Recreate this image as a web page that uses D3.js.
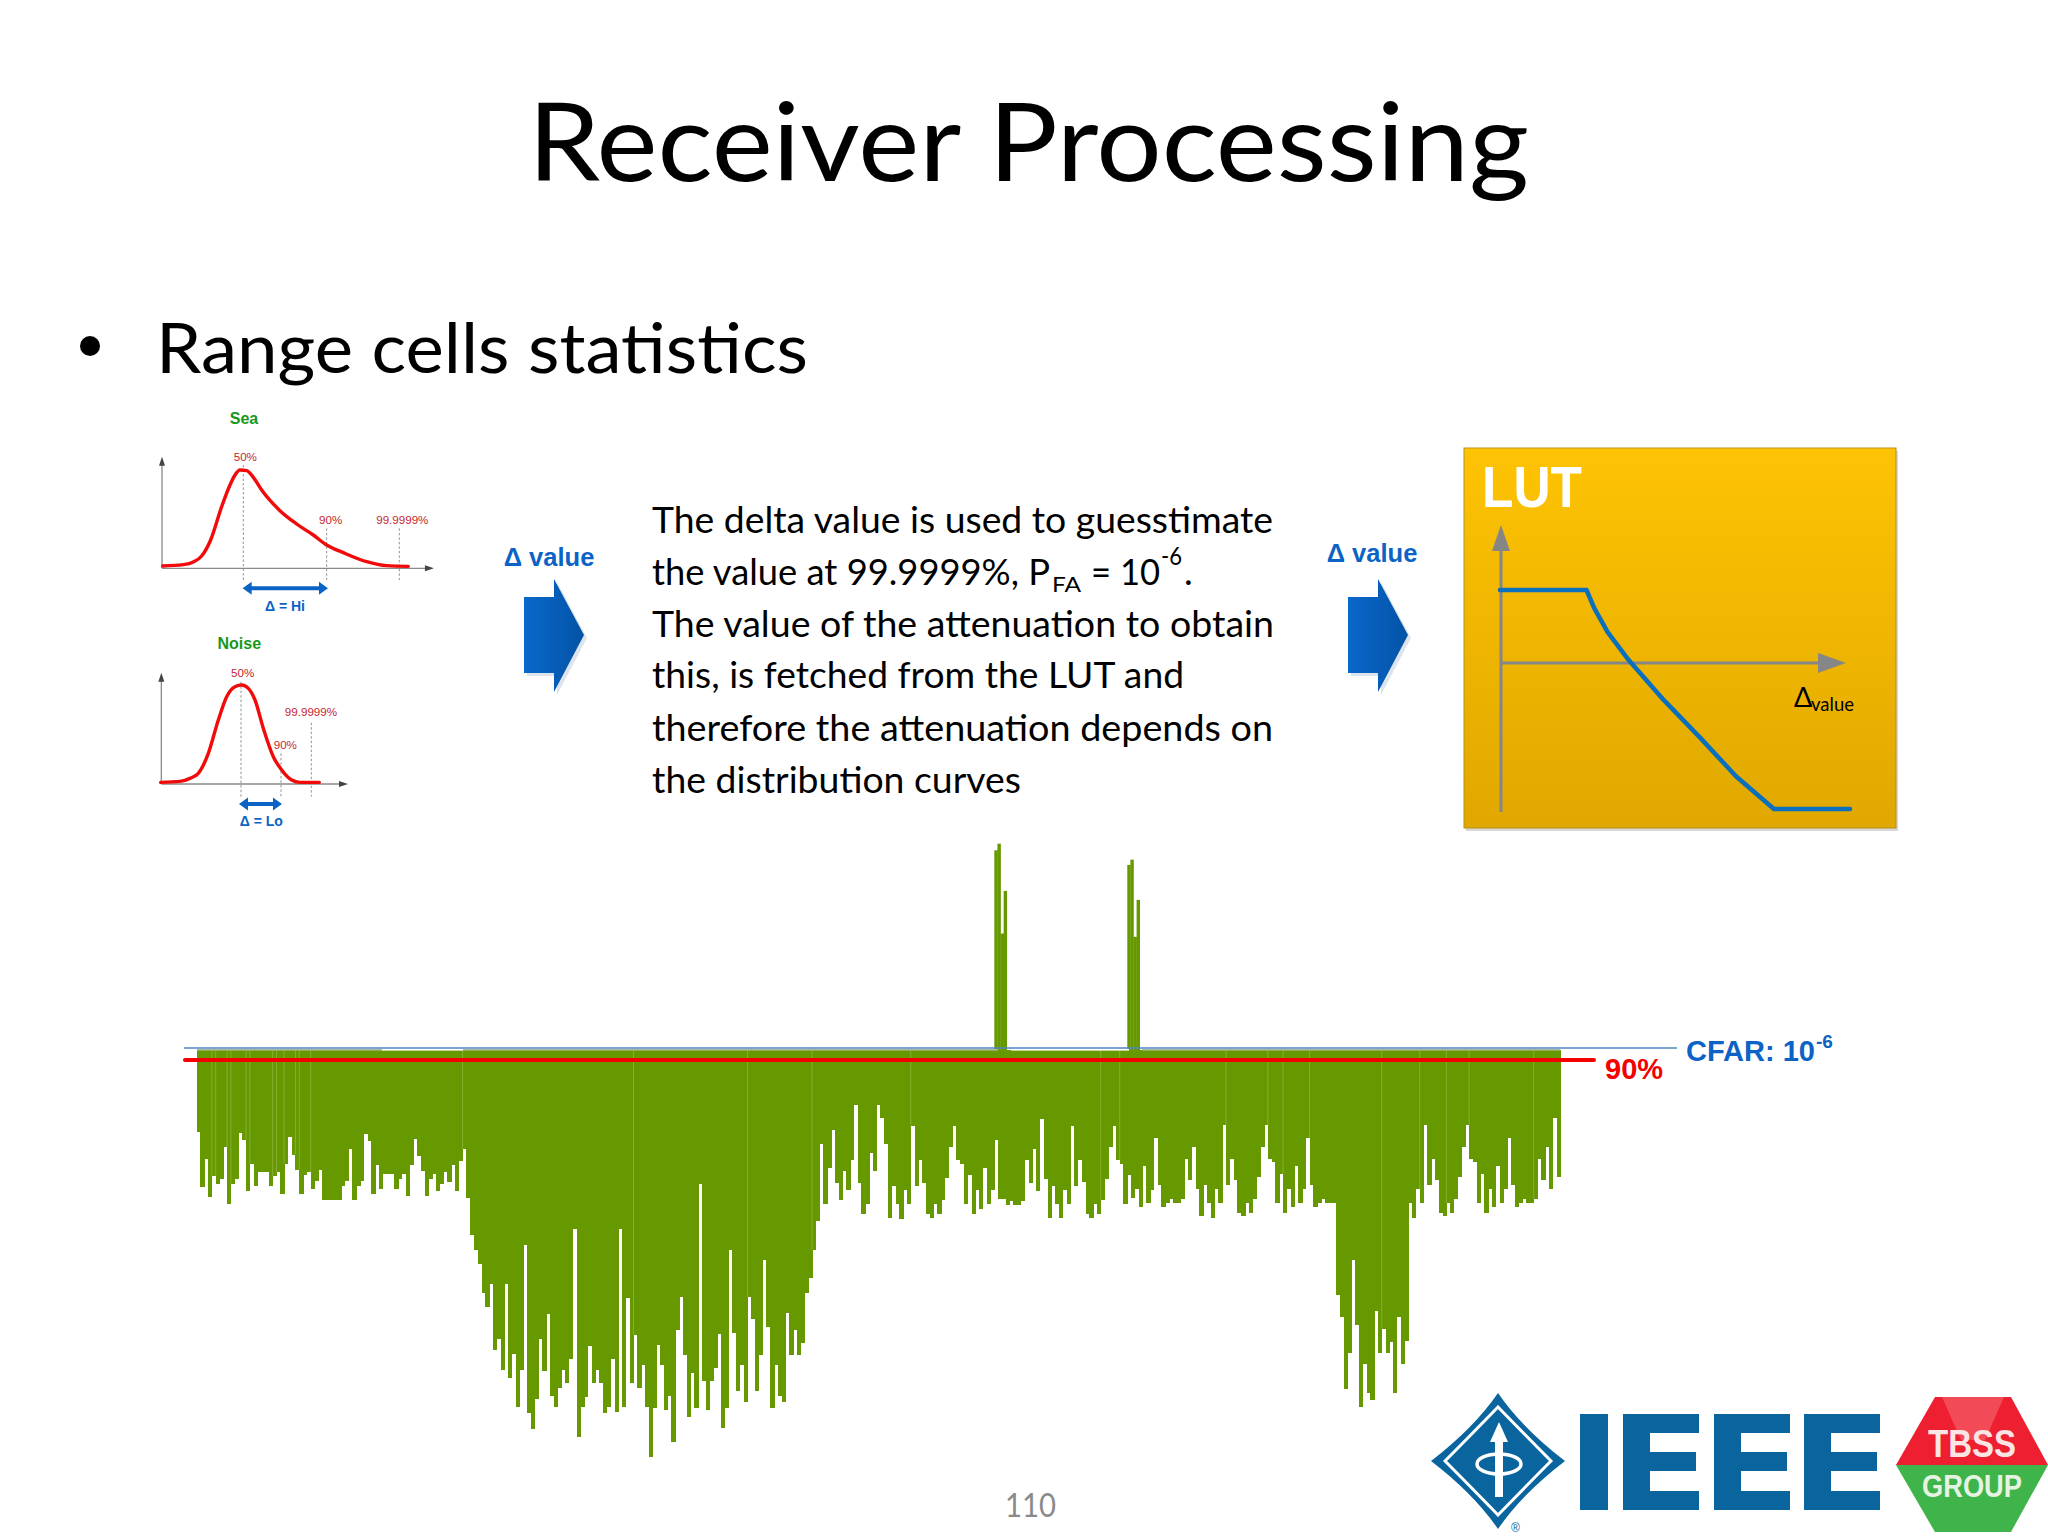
<!DOCTYPE html>
<html><head><meta charset="utf-8">
<script src="https://cdn.jsdelivr.net/npm/d3@7"></script>
<style>html,body{margin:0;background:#fff}svg{display:block}</style></head>
<body><svg id="c" width="2048" height="1536"></svg>
<script>
// ---- data ----
const rangeCellLevels = [
305,470,385,500,437,461,447,350,522,462,447,307,327,483,400,467,425,425,425,467,
437,425,490,400,320,372,418,490,435,425,475,453,418,510,510,510,510,510,467,453,
355,508,467,453,310,330,490,405,475,432,432,432,477,445,432,497,405,325,377,423,
497,445,432,483,460,425,455,405,483,393,355,502,615,658,702,787,830,762,958,925,
1020,762,1045,972,1132,1020,643,1150,1198,1107,925,1023,850,1098,1132,1075,1020,1058,987,595,
1220,1132,1100,948,1058,1020,1058,1150,1132,987,1145,595,1132,802,1058,913,1075,1003,1132,1280,
1135,945,1005,
1140,1097,1235,900,800,975,1162,1030,1133,460,1052,1140,1052,1013,910,1195,1135,658,908,1082,1005,1115,800,865,1082,975,690,890,1135,1005,1097,1115,847,975,900,975,938,787,743,658,572,
340,522,412,298,457,510,423,480,388,222,457,550,522,367,423,222,262,340,563,468,522,566,480,522,285,468,388,457,550,563,522,550,510,443,350,285,388,400,522,435,550,480,535,412,522,480,328,507,507,523,513,525,525,513,390,457,355,482,265,447,562,468,522,563,480,520,287,467,388,455,550,562,522,550,510,445,350,287,388,400,520,433,503,476,530,
408,518,478,322,465,530,518,507,518,518,505,385,450,348,476,558,465,518,562,477,518,283,465,385,450,548,558,518,548,505,440,348,283,385,396,518,430,548,476,530,408,518,476,322,465,530,518,507,518,518,518,
795,860,1078,968,688,885,1130,1000,1090,1110,842,968,895,968,935,1090,860,1000,933,
518,562,477,518,283,465,385,450,548,558,518,548,505,440,348,283,385,396,518,430,548,476,530,408,518,476,322,465,530,518,507,518,518,505,385,450,348,476,262,440];
const cfarLevel = 58;
const spikeA = [-542,-562,-292,-420];
const spikeB = [-498,-514,-282,-393];
const spikeStartCells = [210,245];
const seamCells = [4,5,8,9,13,14,20,21,23,26,27,30,70,115,145,162,188,238,243,271,282,286,293,312,322,329,335,352];

const seaCurveX = [68,130,160,185,212,245,270,285,300,320,340,365,420,470,520,560,610,680,740,805];
const seaCurveY = [498,494,486,468,420,320,255,225,210,212,232,270,332,372,405,435,458,485,497,499];
const noiseCurveX = [62,120,150,175,205,235,260,285,305,325,345,370,400,425,455,480,538];
const noiseCurveY = [1147,1144,1135,1120,1060,960,890,860,855,865,900,985,1070,1110,1140,1147,1147];
const lutX = [0,66,72,82,97,125,153,180,209,267];
const lutY = [0,0,14,32,52,84,113,142,167,167];
const paragraph = [
 ["The delta value is used to guesstimate",621],
 ["The value of the attenuation to obtain",622],
 ["this, is fetched from the LUT and",532],
 ["therefore the attenuation depends on",621],
 ["the distribution curves",369]];

// ---- setup ----
const svg = d3.select("#c");
const defs = svg.append("defs");
const lg = (id,a,b,x2,y2)=>{const g=defs.append("linearGradient").attr("id",id).attr("x1",0).attr("y1",0).attr("x2",x2).attr("y2",y2);
 g.append("stop").attr("offset",0).attr("stop-color",a);g.append("stop").attr("offset",1).attr("stop-color",b);};
lg("lutG","#fec303","#e0a800",0,1); lg("arrG","#0a68cc","#0353a6",1,0);
const LATO="Lato, 'Open Sans', sans-serif", ARIAL="'Liberation Sans', Arial, sans-serif";
const txt=(s,x,y,size,fill,o={})=>{const t=svg.append("text").attr("x",x).attr("y",y).attr("font-size",size).attr("fill",fill)
 .attr("font-family",o.f||ARIAL).attr("font-weight",o.w||400).attr("text-anchor",o.a||"start").text(s);
 if(o.len)t.attr("textLength",o.len).attr("lengthAdjust","spacingAndGlyphs");return t;};

// ---- headings ----
txt("Receiver Processing",528,181,108,"#000",{f:LATO,len:1001});
svg.append("circle").attr("cx",90).attr("cy",346).attr("r",10).attr("fill","#000");
txt("Range cells statistics",156,373,69,"#000",{f:LATO,len:652});

// ---- small distribution plots (reading units of the inset) ----
const sx=d3.scaleLinear().domain([0,880]).range([140,433.3]);
const sy=d3.scaleLinear().domain([0,1380]).range([400,860]);
const line=d3.line().x(d=>sx(d[0])).y(d=>sy(d[1])).curve(d3.curveMonotoneX);
const axisCol="#8a8a8a";
function inset(cx,cy,ax0,axEnd,ay0,ayEnd,dash,labels,arrow){
 svg.append("line").attr("x1",sx(ax0)).attr("x2",sx(axEnd-24)).attr("y1",sy(ay0)).attr("y2",sy(ay0)).attr("stroke",axisCol).attr("stroke-width",1.3);
 svg.append("line").attr("x1",sx(ax0)).attr("x2",sx(ax0)).attr("y1",sy(ay0)).attr("y2",sy(ayEnd+24)).attr("stroke",axisCol).attr("stroke-width",1.3);
 svg.append("path").attr("d",`M${sx(axEnd)},${sy(ay0)}L${sx(axEnd-27)},${sy(ay0-9)}L${sx(axEnd-27)},${sy(ay0+9)}Z`).attr("fill","#444");
 svg.append("path").attr("d",`M${sx(ax0)},${sy(ayEnd)}L${sx(ax0-9)},${sy(ayEnd+27)}L${sx(ax0+9)},${sy(ayEnd+27)}Z`).attr("fill","#444");
 dash.forEach(d=>svg.append("line").attr("x1",sx(d[0])).attr("x2",sx(d[0])).attr("y1",sy(d[1])).attr("y2",sy(d[2])).attr("stroke","#888").attr("stroke-width",.9).attr("stroke-dasharray","2.5 2"));
 svg.append("path").attr("d",line(d3.zip(cx,cy))).attr("fill","none").attr("stroke","#f20a0a").attr("stroke-width",3.4).attr("stroke-linecap","round");
 labels.forEach(l=>txt(l[0],sx(l[1]),sy(l[2]),11.6,"#c4262e",{a:"middle"}));
 const [a,b,y]=arrow, h=6.5, w=9;
 svg.append("path").attr("d",`M${sx(a)},${sy(y)}L${sx(a)+w},${sy(y)-h}L${sx(a)+w},${sy(y)-2}L${sx(b)-w},${sy(y)-2}L${sx(b)-w},${sy(y)-h}L${sx(b)},${sy(y)}L${sx(b)-w},${sy(y)+h}L${sx(b)-w},${sy(y)+2}L${sx(a)+w},${sy(y)+2}L${sx(a)+w},${sy(y)+h}Z`).attr("fill","#0b63c5");
}
inset(seaCurveX,seaCurveY,66,882,505,170,[[310,195,540],[560,385,540],[778,385,540]],[["50%",316,182],["90%",572,371],["99.9999%",787,371]],[308,564,565]);
inset(noiseCurveX,noiseCurveY,64,624,1152,818,[[303,845,1190],[423,1060,1195],[514,968,1190]],[["50%",308,832],["90%",436,1046],["99.9999%",513,947]],[297,426,1212]);
txt("Sea",sx(312),sy(73),16,"#16981a",{a:"middle",w:700});
txt("Noise",sx(298),sy(747),16,"#16981a",{a:"middle",w:700});
txt("Δ = Hi",sx(435),sy(634),14,"#0b63c5",{a:"middle",w:700});
txt("Δ = Lo",sx(364),sy(1279),14,"#0b63c5",{a:"middle",w:700});

// ---- block arrows ----
function blockArrow(x0){
 const bx=x0+30, tip=x0+60;
 svg.append("path").attr("d",`M${x0},597L${bx},597L${bx},579L${tip},635L${bx},692L${bx},673L${x0},673Z`).attr("transform","translate(3,3)").attr("fill","#cfd8e4").attr("opacity",.7);
 svg.append("path").attr("d",`M${x0},597L${bx},597L${bx},579L${tip},635L${bx},692L${bx},673L${x0},673Z`).attr("fill","url(#arrG)");
}
blockArrow(524); blockArrow(1348);
txt("Δ value",549,566,25.5,"#0b63c5",{a:"middle",w:700});
txt("Δ value",1372,562,25.5,"#0b63c5",{a:"middle",w:700});

// ---- paragraph ----
const paraY=[533,637,688,741,793];
paragraph.forEach((p,i)=>txt(p[0],652,paraY[i],37,"#000",{f:LATO,len:p[1]}));
txt("the value at 99.9999%, P",652,585,37,"#000",{f:LATO,len:398});
txt("FA",1052,592,22,"#000",{f:LATO,len:29});
txt("= 10",1091,585,37,"#000",{f:LATO,len:69});
txt("-6",1161,565,25,"#000",{f:LATO,len:21});
txt(".",1184,585,37,"#000",{f:LATO});

// ---- LUT panel ----
svg.append("rect").attr("x",1466).attr("y",451).attr("width",432).attr("height",380).attr("fill","#d8d8d8");
svg.append("rect").attr("x",1464).attr("y",448).attr("width",432).attr("height",380).attr("fill","url(#lutG)").attr("stroke","#b98f1a").attr("stroke-width",1);
txt("LUT",1482,507,58,"#fff",{w:700,len:100});
const lx=d3.scaleLinear().domain([0,267]).range([1500,1850]);
const ly=d3.scaleLinear().domain([0,167]).range([590,809]);
svg.append("line").attr("x1",1501).attr("x2",1501).attr("y1",548).attr("y2",812).attr("stroke","#868686").attr("stroke-width",3);
svg.append("line").attr("x1",1501).attr("x2",1820).attr("y1",663).attr("y2",663).attr("stroke","#868686").attr("stroke-width",3);
svg.append("path").attr("d","M1501,525L1492,551L1510,551Z").attr("fill","#868686");
svg.append("path").attr("d","M1846,663L1818,653L1818,673Z").attr("fill","#868686");
svg.append("path").attr("d",d3.line().x(d=>lx(d[0])).y(d=>ly(d[1])).curve(d3.curveLinear)(d3.zip(lutX,lutY))).attr("fill","none").attr("stroke","#0a6fbd").attr("stroke-width",4.5).attr("stroke-linejoin","round").attr("stroke-linecap","round");
txt("Δ",1794,707,27,"#000",{f:LATO});
txt("value",1811,711,20,"#000",{f:LATO,len:43});

// ---- range cell bars ----
const x=d3.scaleBand().domain(d3.range(rangeCellLevels.length)).range([196.7,1560.3]).paddingInner(0);
const y=d3.scaleLinear().domain([cfarLevel,1280]).range([1050,1456.7]);
svg.append("g").attr("shape-rendering","crispEdges").selectAll("rect").data(rangeCellLevels).join("rect")
 .attr("x",(d,i)=>x(i)).attr("width",x.bandwidth()+.5).attr("y",y(cfarLevel)).attr("height",d=>y(d)-y(cfarLevel)).attr("fill","#669900");
[spikeA,spikeB].forEach((s,k)=>{
 const x0=x(spikeStartCells[k]);
 const sxx=d3.scaleBand().domain(d3.range(s.length)).range([x0,x0+12.4]);
 svg.append("g").selectAll("rect").data(s).join("rect").attr("x",(d,i)=>sxx(i)).attr("width",sxx.bandwidth()+.3)
  .attr("y",d=>y(d)).attr("height",d=>y(cfarLevel)-y(d)).attr("fill","#669900");
});
svg.append("g").selectAll("line").data(seamCells).join("line")
 .attr("x1",d=>x(d)).attr("x2",d=>x(d)).attr("y1",y(cfarLevel)).attr("y2",d=>y(Math.min(rangeCellLevels[d],rangeCellLevels[d-1])))
 .attr("stroke","#b5d07a").attr("stroke-width",.9).attr("opacity",.45);
[[197,382,"#a9bb98"],[382,463,"#fff"],[463,998,"#a9bb98"],[1011,1129,"#fff"],[1142,1560,"#a9bb98"]].forEach(s=>
 svg.append("rect").attr("x",s[0]).attr("y",1049).attr("width",s[1]-s[0]).attr("height",1.6).attr("fill",s[2]));
svg.append("line").attr("x1",184).attr("x2",1677).attr("y1",1048).attr("y2",1048).attr("stroke","#4f86c6").attr("stroke-width",1.3);
svg.append("line").attr("x1",185).attr("x2",1594).attr("y1",1060).attr("y2",1060).attr("stroke","#f40000").attr("stroke-width",4).attr("stroke-linecap","round");
txt("90%",1605,1079,29,"#f40000",{w:700});
txt("CFAR: 10",1686,1061,29,"#0b63c5",{w:700});
txt("-6",1816,1048,19,"#0b63c5",{w:700});

// ---- logos & page number ----
txt("110",1005,1517,32,"#8a8a8a",{f:LATO,len:51});
const B="#0a659e";
svg.append("path").attr("d","M1498,1393Q1522,1428 1565,1461Q1522,1494 1498,1529Q1474,1494 1431,1461Q1474,1428 1498,1393Z").attr("fill",B);
svg.append("path").attr("d","M1498,1407Q1530,1440 1551,1461Q1530,1482 1498,1515Q1466,1482 1445,1461Q1466,1440 1498,1407Z").attr("fill","none").attr("stroke","#fff").attr("stroke-width",3);
svg.append("ellipse").attr("cx",1499).attr("cy",1464).attr("rx",22).attr("ry",10).attr("fill","none").attr("stroke","#fff").attr("stroke-width",3.5);
svg.append("path").attr("d","M1495,1497L1495,1442L1490,1442L1499,1422L1508,1442L1503,1442L1503,1497Z").attr("fill","#fff");
txt("®",1511,1532,12,B,{});
svg.append("rect").attr("x",1580).attr("y",1414).attr("width",28).attr("height",96).attr("fill",B);
[1623,1714,1804].forEach(e=>{
 svg.append("path").attr("d",`M${e},1414h76v19h-49v19h46v19h-46v20h49v19h-76Z`).attr("fill",B);
});
svg.append("path").attr("d","M1935,1397L2011,1397L2048,1465L1896,1465Z").attr("fill","#ee1f30");
svg.append("path").attr("d","M1942,1397L2004,1397L1985,1440L1961,1440Z").attr("fill","#f34a58");
svg.append("path").attr("d","M1896,1465L2048,1465L2011,1532L1935,1532Z").attr("fill","#3fb44a");
txt("TBSS",1972,1457,38,"#fbe4e4",{w:700,a:"middle",len:88});
txt("GROUP",1972,1497,31,"#e6f3e2",{w:700,a:"middle",len:100});
</script></body></html>
